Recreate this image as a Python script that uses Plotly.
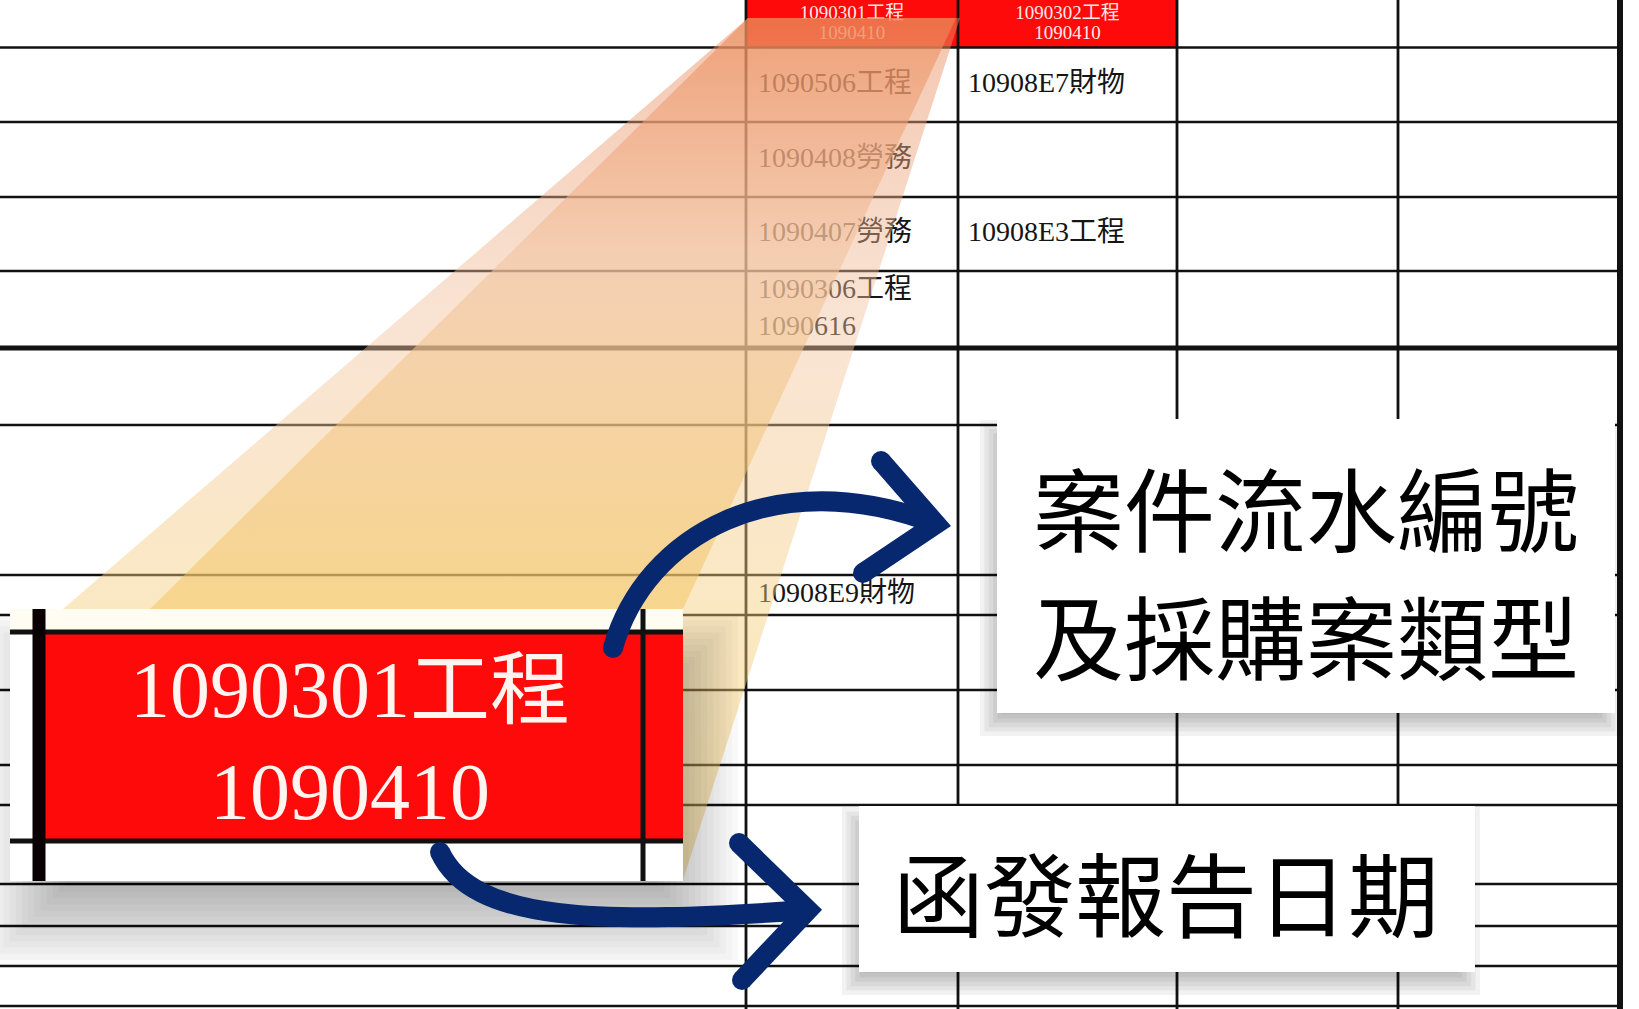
import plotly.graph_objects as go

W, H = 1639, 1009

# ---------------- data: texts shown in the sheet ----------------
header_line1 = ["1090301工程", "1090302工程"]
header_line2 = ["1090410", "1090410"]
case_col1 = ["1090506工程", "1090408勞務", "1090407勞務", "1090306工程<br>1090616", "", "", "10908E9財物"]
case_col2 = ["10908E7財物", "", "10908E3工程", "", "", "", ""]
zoom_line1 = "1090301工程"
zoom_line2 = "1090410"
label_serial = ["案件流水編號", "及採購案類型"]
label_date = "函發報告日期"

# ---------------- geometry (pixels) ----------------
row_edges = [47.5, 122, 197, 271, 348, 425, 575, 615, 690, 765, 805, 884, 926, 966, 1006]
thick_rows = {348}
col_edges = [746, 958, 1177, 1398, 1620]
NAVY = "#07286E"
RED = "#FE0A0A"
SERIF = "Liberation Serif, Noto Sans CJK TC, serif"
SANS_CJK = "Noto Sans CJK TC, Noto Sans, sans-serif"

shapes = []
# header red cells
shapes.append(dict(type="rect", x0=col_edges[0], x1=col_edges[1], y0=0, y1=row_edges[0],
                   fillcolor=RED, line_width=0, layer="below"))
shapes.append(dict(type="rect", x0=col_edges[1], x1=col_edges[2], y0=0, y1=row_edges[0],
                   fillcolor=RED, line_width=0, layer="below"))
# horizontal grid
for y in row_edges:
    shapes.append(dict(type="line", x0=0, x1=col_edges[-1] + 3, y0=y, y1=y,
                       line=dict(color="#111", width=5 if y in thick_rows else 2.6), layer="below"))
# vertical grid
for i, x in enumerate(col_edges):
    shapes.append(dict(type="line", x0=x, x1=x, y0=0, y1=H,
                       line=dict(color="#111", width=6 if i == len(col_edges) - 1 else 2.8), layer="below"))

traces = []
# cell texts (under the highlight cone)
def centers(n):
    return [(row_edges[i] + row_edges[i + 1]) / 2 for i in range(n)]

c1y = centers(len(case_col1))
c2y = centers(len(case_col2))
traces.append(go.Scatter(
    x=[col_edges[0] + 12] * len(case_col1) + [col_edges[1] + 10] * len(case_col2),
    y=c1y + c2y, text=case_col1 + case_col2, mode="text", textposition="middle right",
    textfont=dict(family=SERIF, size=28, color="#151515"), hoverinfo="skip", showlegend=False))
# header texts
hx = [(col_edges[0] + col_edges[1]) / 2, (col_edges[1] + col_edges[2]) / 2]
traces.append(go.Scatter(
    x=hx + hx, y=[14, 14, 34, 34], text=header_line1 + header_line2, mode="text",
    textposition="middle center", textfont=dict(family=SERIF, size=19, color="#FFE8E8"),
    hoverinfo="skip", showlegend=False))

# highlight cone (two translucent gradient layers)
def cone(xs, ys, stops, y0, y1):
    return go.Scatter(x=xs, y=ys, fill="toself", mode="lines", line=dict(width=0, color="rgba(0,0,0,0)"),
                      fillgradient=dict(type="vertical", colorscale=stops, start=y0, stop=y1),
                      hoverinfo="skip", showlegend=False)

traces.append(cone([748, 960, 683, 683, 63, 748], [18, 18, 880, 609, 609, 18],
                   [[0, "rgba(232,140,95,0.5)"], [0.35, "rgba(242,195,160,0.45)"],
                    [0.7, "rgba(245,205,120,0.45)"], [1, "rgba(240,200,100,0.5)"]], 18, 880))
traces.append(cone([748, 956, 683, 150, 748], [18, 18, 609, 609, 18],
                   [[0, "rgba(235,135,85,0.6)"], [0.4, "rgba(242,195,160,0.6)"],
                    [1, "rgba(242,195,90,0.5)"]], 18, 609))

# ---- shadows ----
def soft_shadow(x0, y0, x1, y1, dx, dy, blur, n, alpha):
    for k in range(n):
        g = -blur / 2 + blur * k / (n - 1)
        shapes.append(dict(type="rect", x0=x0 + dx - g, x1=x1 + dx + g, y0=y0 + dy - g, y1=y1 + dy + g,
                           fillcolor=f"rgba(0,0,0,{alpha})", line_width=0, layer="above"))

# zoomed-in inset box
bx0, bx1, by0, by1 = 10, 683, 609, 881
soft_shadow(bx0, by0, bx1, by1, 15, 45, 80, 14, 0.025)
shapes.append(dict(type="rect", x0=bx0, x1=bx1, y0=by0, y1=by1, fillcolor="#FFFFFF", line_width=0, layer="above"))
shapes.append(dict(type="rect", x0=bx0, x1=bx1, y0=by0, y1=630, fillcolor="#FFFDF2", line_width=0, layer="above"))
shapes.append(dict(type="rect", x0=45, x1=bx1, y0=634, y1=839, fillcolor=RED, line_width=0, layer="above"))
shapes.append(dict(type="line", x0=bx0, x1=bx1, y0=632, y1=632, line=dict(color="#111", width=5), layer="above"))
shapes.append(dict(type="line", x0=bx0, x1=bx1, y0=841, y1=841, line=dict(color="#111", width=5), layer="above"))
shapes.append(dict(type="line", x0=39, x1=39, y0=by0, y1=by1, line=dict(color="#0A0004", width=13), layer="above"))
shapes.append(dict(type="line", x0=643, x1=643, y0=by0, y1=by1, line=dict(color="#111", width=5), layer="above"))

# label boxes
lb1 = (997, 419, 1615, 713)
lb2 = (859, 806, 1475, 972)
for (x0, y0, x1, y1) in (lb1, lb2):
    soft_shadow(x0, y0, x1, y1, -6, 12, 22, 6, 0.05)
for (x0, y0, x1, y1) in (lb1, lb2):
    shapes.append(dict(type="rect", x0=x0, x1=x1, y0=y0, y1=y1, fillcolor="#FFFFFF", line_width=0, layer="above"))

# arrows
arrow_paths = [
    "M 613 648 C 645 535, 775 462, 936 524",
    "M 881 461 L 936 524 L 863 573",
    "M 440 852 C 472 922, 600 925, 808 910",
    "M 739 843 L 808 910 L 742 980",
]
for p in arrow_paths:
    shapes.append(dict(type="path", path=p, line=dict(color=NAVY, width=20),
                       fillcolor="rgba(0,0,0,0)", layer="above"))
for (cx, cy) in [(613, 648), (881, 461), (863, 573), (440, 852), (739, 843), (742, 980)]:
    shapes.append(dict(type="circle", x0=cx - 10, x1=cx + 10, y0=cy - 10, y1=cy + 10,
                       fillcolor=NAVY, line_width=0, layer="above"))

annotations = [
    dict(x=350, y=690, text=zoom_line1, showarrow=False, font=dict(family=SERIF, size=80, color="#FFF4F0")),
    dict(x=350, y=792, text=zoom_line2, showarrow=False, font=dict(family=SERIF, size=80, color="#FFF4F0")),
    dict(x=1306, y=505, text=label_serial[0], showarrow=False, font=dict(family=SANS_CJK, size=91, color="#000")),
    dict(x=1306, y=633, text=label_serial[1], showarrow=False, font=dict(family=SANS_CJK, size=91, color="#000")),
    dict(x=1166, y=890, text=label_date, showarrow=False, font=dict(family=SANS_CJK, size=91, color="#000")),
]

fig = go.Figure(traces)
fig.update_layout(
    width=W, height=H, margin=dict(l=0, r=0, t=0, b=0),
    paper_bgcolor="white", plot_bgcolor="white",
    xaxis=dict(range=[0, W], visible=False, fixedrange=True),
    yaxis=dict(range=[H, 0], visible=False, fixedrange=True),
    shapes=shapes, annotations=annotations, showlegend=False,
)
fig.write_html("out.html", config={"displayModeBar": False},
               post_script="document.body.style.margin='0';document.body.style.overflow='hidden';")
